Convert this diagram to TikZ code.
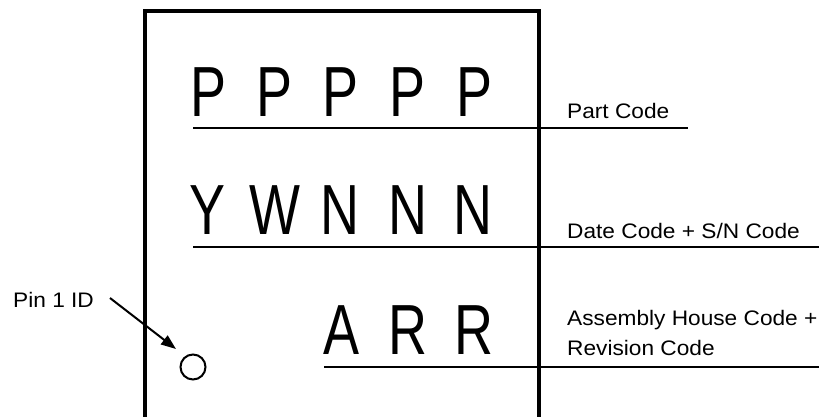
\documentclass[tikz,border=0pt]{standalone}
\usepackage{fontspec}
\setmainfont{Liberation Sans}
\newfontfamily\lblfont[FakeStretch=1.08]{Liberation Sans}
\newfontfamily\markfont[FakeStretch=0.76]{Liberation Sans}
\usetikzlibrary{arrows.meta}
\tikzset{
  chip/.style={line width=4pt},
  rule/.style={line width=1.8pt},
  glyph/.style={anchor=base, inner sep=0pt, font=\markfont\fontsize{71}{71}\selectfont},
  lbl/.style={anchor=base west, inner sep=0pt, font=\lblfont\fontsize{21}{21}\selectfont},
  pinarrow/.style={line width=2pt, -{Triangle[length=15pt,width=11pt]}},
  pinmark/.style={circle, draw, line width=2pt, minimum size=25pt, inner sep=0pt}
}
\begin{document}
\begin{tikzpicture}[x=1pt,y=-1pt]
\useasboundingbox (0,0) rectangle (824,416);
% chip outline
\draw[chip] (145,418.5) -- (145,11) -- (539,11) -- (539,418.5) -- cycle;
% marking rows
\node[glyph] (p1) at (208,116) {P};
\node[glyph] (p2) at (274,116) {P};
\node[glyph] (p3) at (340,116) {P};
\node[glyph] (p4) at (407,116) {P};
\node[glyph] (p5) at (474,116) {P};
\node[glyph] (y1) at (207,234) {Y};
\node[glyph] (w1) at (275,234) {W};
\node[glyph] (n1) at (340,234) {N};
\node[glyph] (n2) at (408,234) {N};
\node[glyph] (n3) at (473,234) {N};
\node[glyph] (a1) at (341,354) {A};
\node[glyph] (r1) at (408,354) {R};
\node[glyph] (r2) at (474,354) {R};
% leader lines
\coordinate (l1s) at (193,128); \coordinate (l1e) at (688,128);
\coordinate (l2s) at (193,247); \coordinate (l2e) at (819,247);
\coordinate (l3s) at (324,367); \coordinate (l3e) at (819,367);
\draw[rule] (l1s) -- (l1e);
\draw[rule] (l2s) -- (l2e);
\draw[rule] (l3s) -- (l3e);
% labels
\node[lbl] (t1) at (567,118) {Part Code};
\node[lbl] (t2) at (567,238) {Date Code + S/N Code};
\node[lbl] (t3a) at (567,325) {Assembly House Code +};
\node[lbl] (t3b) at (567,355) {Revision Code};
% pin 1
\node[lbl] (pin) at (13,307) {Pin 1 ID};
\node[pinmark] (dot) at (193,367) {};
\coordinate (as) at (110,298);
\coordinate (ae) at (176,349);
\draw[pinarrow] (as) -- (ae);
\end{tikzpicture}
\end{document}
